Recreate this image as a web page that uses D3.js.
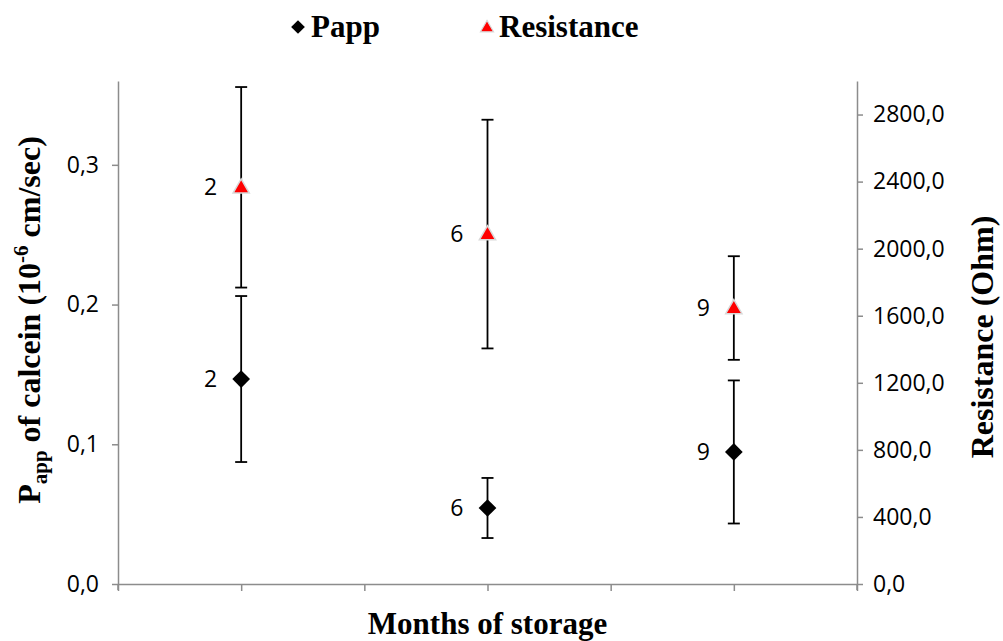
<!DOCTYPE html>
<html>
<head>
<meta charset="utf-8">
<script src="https://cdn.jsdelivr.net/npm/d3@7"></script>
<style>
  html, body { margin: 0; padding: 0; background: #fff; }
  svg { display: block; }
</style>
</head>
<body>
<svg id="chart" width="1003" height="641"></svg>
<script>
// ---- data ----
const months = ["2", "6", "9"];
const xPositions = [1, 3, 5];
const pappValues = [0.1467, 0.0544, 0.0945];
const pappErrors = [0.0594, 0.0215, 0.0512];
const resistanceValues = [2366, 2087, 1646];
const resistanceErrors = [598, 682, 309];
const leftTicks = [0, 0.1, 0.2, 0.3];
const rightTicks = [0, 400, 800, 1200, 1600, 2000, 2400, 2800];
const xTicks = [0, 1, 2, 3, 4, 5, 6];

const svg = d3.select("#chart");
const margin = { left: 118, right: 857, top: 81, bottom: 584 };
const axisColor = "#8c8c8c";
const labelFont = "'Open Sans', 'Noto Sans', sans-serif";
const labelSize = "23px";
const serif = "'Liberation Serif', 'Times New Roman', serif";
const titleSize = "31px";

const x = d3.scaleLinear().domain([0, 6]).range([margin.left, margin.right]);
const yL = d3.scaleLinear().domain([0, 0.36]).range([margin.bottom, margin.top]);
const yR = d3.scaleLinear().domain([0, 3000]).range([margin.bottom, margin.top]);

// axes
const fmt1 = v => d3.format(".1f")(v).replace(".", ",");

const gL = svg.append("g").attr("transform", `translate(${margin.left},0)`)
  .call(d3.axisLeft(yL).tickValues(leftTicks).tickFormat(fmt1).tickSize(6).tickPadding(13).tickSizeOuter(0));
const gR = svg.append("g").attr("transform", `translate(${margin.right},0)`)
  .call(d3.axisRight(yR).tickValues(rightTicks).tickFormat(fmt1).tickSize(6).tickPadding(10).tickSizeOuter(0));
const gX = svg.append("g").attr("transform", `translate(0,${margin.bottom})`)
  .call(d3.axisBottom(x).tickValues(xTicks).tickFormat("").tickSize(7).tickSizeOuter(0));

[gL, gR, gX].forEach(g => {
  g.select(".domain").attr("stroke", axisColor).attr("stroke-width", 1.5);
  g.selectAll(".tick line").attr("stroke", axisColor).attr("stroke-width", 1.5);
  g.selectAll(".tick text").attr("fill", "#000").style("font-family", labelFont).style("font-size", labelSize);
});
gL.append("line").attr("x1", 0).attr("x2", 0).attr("y1", 0).attr("y2", 6)
  .attr("transform", `translate(0,${margin.bottom})`).attr("stroke", axisColor).attr("stroke-width", 1.5);
gR.append("line").attr("x1", 0).attr("x2", 0).attr("y1", 0).attr("y2", 6)
  .attr("transform", `translate(0,${margin.bottom})`).attr("stroke", axisColor).attr("stroke-width", 1.5);

// error bars
function errorBars(vals, errs, scale, cls) {
  const g = svg.append("g").attr("class", cls);
  vals.forEach((v, i) => {
    const cx = x(xPositions[i]);
    const y1 = scale(v + errs[i]), y2 = scale(v - errs[i]);
    g.append("line").attr("x1", cx).attr("x2", cx).attr("y1", y1).attr("y2", y2)
      .attr("stroke", "#000").attr("stroke-width", 1.8);
    [y1, y2].forEach(yy => g.append("line").attr("x1", cx - 6).attr("x2", cx + 6)
      .attr("y1", yy).attr("y2", yy).attr("stroke", "#000").attr("stroke-width", 1.8));
  });
}
errorBars(resistanceValues, resistanceErrors, yR, "err-res");
errorBars(pappValues, pappErrors, yL, "err-papp");

// markers
const diamond = d3.symbol().type(d3.symbolDiamond2).size(200);
const triangle = d3.symbol().type(d3.symbolTriangle).size(115);

svg.append("g").selectAll("path").data(pappValues).join("path")
  .attr("d", diamond)
  .attr("transform", (d, i) => `translate(${x(xPositions[i])},${yL(d)})`)
  .attr("fill", "#000");

svg.append("g").selectAll("path").data(resistanceValues).join("path")
  .attr("d", triangle)
  .attr("transform", (d, i) => `translate(${x(xPositions[i])},${yR(d) + 1})`)
  .attr("fill", "#ff0000").attr("stroke", "#d9d9d9").attr("stroke-width", 1.5);

// data labels
function dataLabels(vals, scale) {
  svg.append("g").selectAll("text").data(vals).join("text")
    .attr("x", (d, i) => x(xPositions[i]) - 24)
    .attr("y", d => scale(d))
    .attr("dy", "0.35em")
    .attr("text-anchor", "end")
    .style("font-family", labelFont).style("font-size", labelSize)
    .text((d, i) => months[i]);
}
dataLabels(pappValues, yL);
dataLabels(resistanceValues, yR);

// axis titles
svg.append("text").attr("x", (margin.left + margin.right) / 2).attr("y", 634)
  .attr("text-anchor", "middle").style("font-family", serif).style("font-weight", "bold")
  .style("font-size", titleSize).text("Months of storage");

const lt = svg.append("text").attr("transform", `translate(40,320) rotate(-90)`)
  .attr("text-anchor", "middle").style("font-family", serif).style("font-weight", "bold")
  .style("font-size", "32px");
lt.append("tspan").text("P");
lt.append("tspan").attr("dy", 7).style("font-size", "21px").text("app");
lt.append("tspan").attr("dy", -7).text(" of calcein (10");
lt.append("tspan").attr("dy", -12).style("font-size", "21px").text("-6");
lt.append("tspan").attr("dy", 12).text(" cm/sec)");

svg.append("text").attr("transform", `translate(993,337) rotate(-90)`)
  .attr("text-anchor", "middle").style("font-family", serif).style("font-weight", "bold")
  .style("font-size", "32px").text("Resistance (Ohm)");

// legend
const legend = svg.append("g");
legend.append("path").attr("d", d3.symbol().type(d3.symbolDiamond2).size(120))
  .attr("transform", "translate(298,27)").attr("fill", "#000");
legend.append("text").attr("x", 311).attr("y", 37).style("font-family", serif)
  .style("font-weight", "bold").style("font-size", titleSize).text("Papp");
legend.append("path").attr("d", d3.symbol().type(d3.symbolTriangle).size(75))
  .attr("transform", "translate(487,28)").attr("fill", "#ff0000").attr("stroke", "#d9d9d9").attr("stroke-width", 1.2);
legend.append("text").attr("x", 499).attr("y", 37).style("font-family", serif)
  .style("font-weight", "bold").style("font-size", titleSize).text("Resistance");
</script>
</body>
</html>
